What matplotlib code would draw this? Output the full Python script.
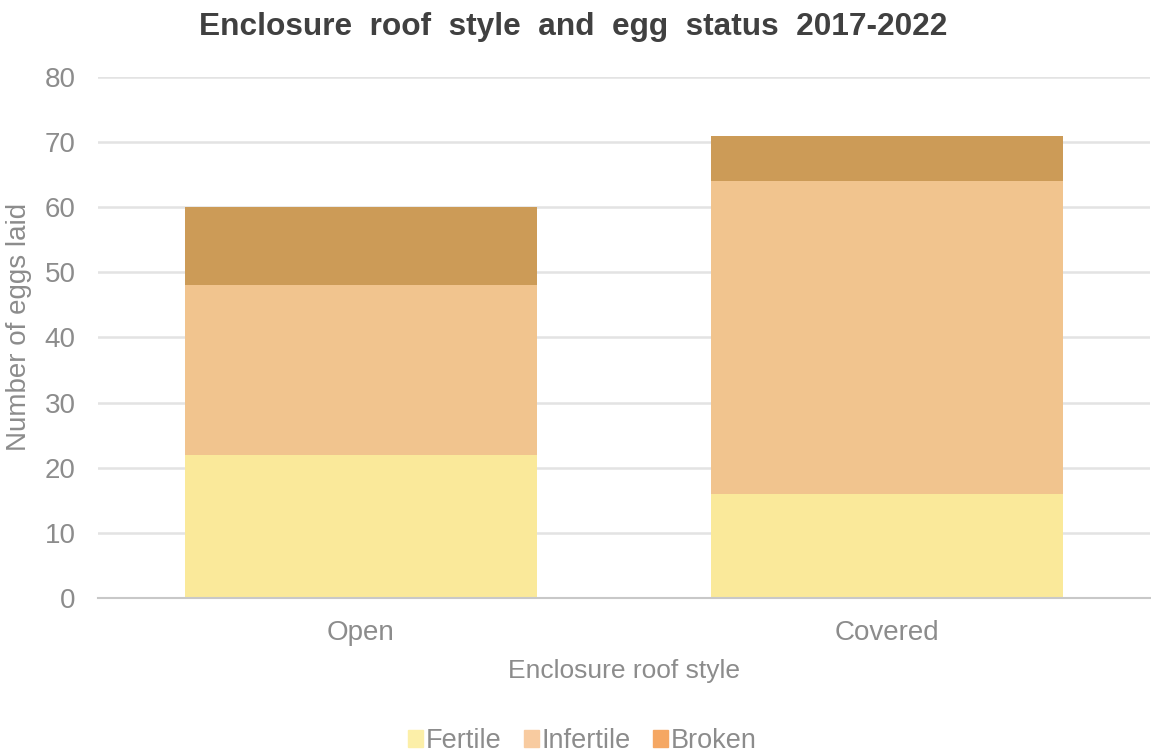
import numpy as np
import matplotlib.pyplot as plt
from matplotlib.patches import Patch

plt.rcParams['font.family'] = ['Liberation Sans', 'DejaVu Sans']

# data
categories = ["Open", "Covered"]
fertile = [22, 16]
infertile = [26, 48]
broken = [12, 7]

bar_cols = ["#FAE99A", "#F1C48E", "#CC9B57"]
leg_cols = ["#FCEFA8", "#F8CBA0", "#F5A763"]
txt = "#8C8C8C"

fig = plt.figure(figsize=(11.51, 7.54), dpi=100)
ax = fig.add_axes([0.0851, 0.2069, 0.9140, 0.6910])

x = np.arange(len(categories))
w = 0.67
ax.bar(x, fertile, w, color=bar_cols[0], zorder=3)
ax.bar(x, infertile, w, bottom=fertile, color=bar_cols[1], zorder=3)
ax.bar(x, broken, w, bottom=np.add(fertile, infertile), color=bar_cols[2], zorder=3)

ax.set_xlim(-0.5, 1.5)
ax.set_ylim(0, 80)
ax.set_yticks(range(0, 81, 10))
ax.set_xticks(x)
ax.set_xticklabels(categories)
ax.grid(axis="y", color="#E3E3E3", linewidth=1.8, zorder=0)
for s in ["top", "right", "left"]:
    ax.spines[s].set_visible(False)
ax.spines["bottom"].set_color("#C8C8C8")
ax.spines["bottom"].set_linewidth(1.5)
ax.spines["bottom"].set_zorder(4)
ax.tick_params(length=0, labelsize=20, colors=txt, pad=16)
ax.tick_params(axis="y", pad=16)

ax.set_xlabel("Enclosure roof style", fontsize=19, color=txt)
ax.xaxis.set_label_coords(0.5, -0.118)
ax.set_ylabel("Number of eggs laid", fontsize=20, color=txt)
ax.yaxis.set_label_coords(-0.063, 0.52)

fig.text(0.498, 0.964, "Enclosure  roof  style  and  egg  status  2017-2022",
         ha="center", va="center", fontsize=22.8, fontweight="bold", color="#404040")

handles = [Patch(color=c) for c in leg_cols]
fig.legend(handles, ["Fertile", "Infertile", "Broken"], loc="center",
           bbox_to_anchor=(0.506, 0.017), ncol=3, frameon=False, fontsize=19.5,
           labelcolor=txt, handlelength=0.55, handleheight=0.55, handletextpad=0.12,
           columnspacing=0.8)

fig.savefig("out.png", dpi=100)
